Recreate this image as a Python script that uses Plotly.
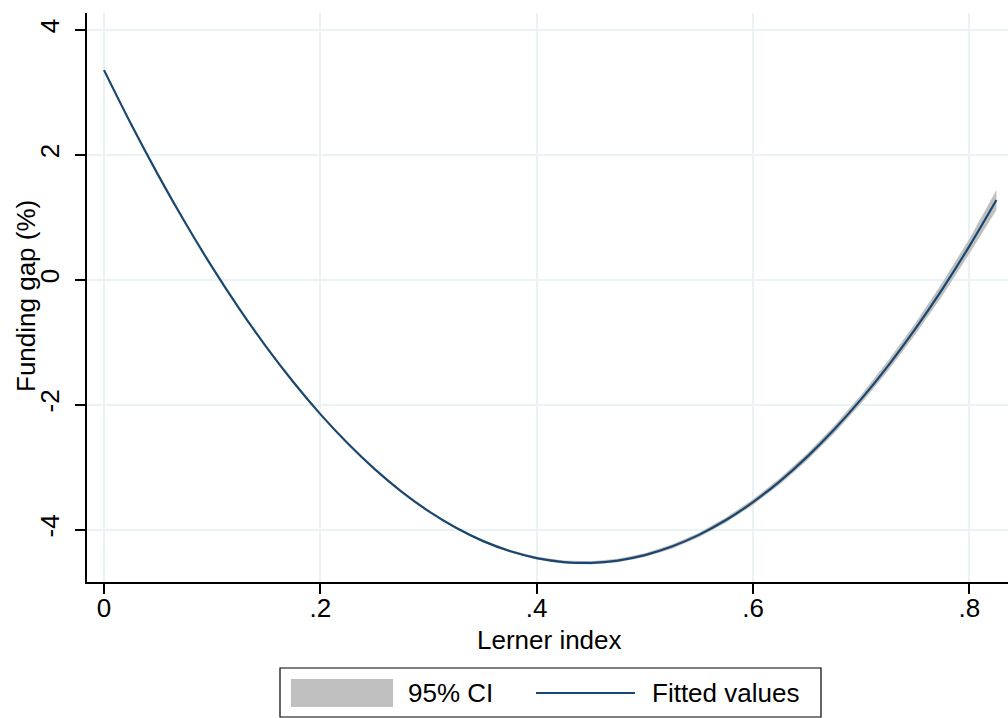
import plotly.graph_objects as go

# Lerner index grid (x) and fitted funding gap (%)
lerner = [0.0, 0.025, 0.05, 0.075, 0.1, 0.125, 0.15, 0.175, 0.2, 0.225, 0.25, 0.275,
          0.3, 0.325, 0.35, 0.375, 0.4, 0.425, 0.45, 0.475, 0.5, 0.525, 0.55, 0.575,
          0.6, 0.625, 0.65, 0.675, 0.7, 0.725, 0.75, 0.775, 0.8, 0.825]
fitted = [3.355, 2.492, 1.679, 0.916, 0.203, -0.460, -1.073, -1.636, -2.149, -2.612,
          -3.025, -3.388, -3.701, -3.964, -4.177, -4.340, -4.453, -4.516, -4.529, -4.492,
          -4.405, -4.268, -4.081, -3.844, -3.557, -3.220, -2.833, -2.396, -1.909, -1.372,
          -0.785, -0.148, 0.539, 1.276]
ci_lower = [3.335, 2.476, 1.666, 0.905, 0.193, -0.470, -1.083, -1.646, -2.159, -2.622,
            -3.036, -3.400, -3.715, -3.980, -4.195, -4.360, -4.475, -4.540, -4.555, -4.520,
            -4.435, -4.301, -4.117, -3.884, -3.602, -3.270, -2.889, -2.459, -1.979, -1.452,
            -0.875, -0.253, 0.419, 1.116]
ci_upper = [3.375, 2.508, 1.692, 0.927, 0.213, -0.450, -1.063, -1.626, -2.139, -2.602,
            -3.014, -3.376, -3.687, -3.948, -4.159, -4.320, -4.431, -4.492, -4.503, -4.464,
            -4.375, -4.235, -4.045, -3.804, -3.512, -3.170, -2.777, -2.333, -1.839, -1.292,
            -0.695, -0.043, 0.659, 1.436]

x_ticks = [0, 0.2, 0.4, 0.6, 0.8]
x_tick_labels = ["0", ".2", ".4", ".6", ".8"]
y_ticks = [-4, -2, 0, 2, 4]
y_tick_labels = ["-4", "-2", "0", "2", "4"]
x_title = "Lerner index"
y_title = "Funding gap (%)"
legend_labels = ["95% CI", "Fitted values"]

FONT = "Liberation Sans, Arial, sans-serif"
NAVY = "#1a476f"
GRAY = "#c0c0c0"
GRID = "#eaf2f3"

fig = go.Figure()
fig.add_trace(go.Scatter(x=lerner, y=ci_lower, mode="lines", line=dict(width=0, color=GRAY),
                         showlegend=False, hoverinfo="skip"))
fig.add_trace(go.Scatter(x=lerner, y=ci_upper, mode="lines", line=dict(width=0, color=GRAY),
                         fill="tonexty", fillcolor=GRAY, name=legend_labels[0], showlegend=False))
fig.add_trace(go.Scatter(x=lerner, y=fitted, mode="lines", line=dict(width=2.2, color=NAVY),
                         name=legend_labels[1], showlegend=False, line_shape="spline"))

fig.update_layout(
    width=1008, height=718,
    margin=dict(l=87, r=0, t=13, b=136, autoexpand=False),
    paper_bgcolor="white", plot_bgcolor="white",
    font=dict(family=FONT, size=26, color="black"),
    xaxis=dict(range=[-0.0157, 0.8357], tickvals=x_ticks, ticktext=x_tick_labels,
               showgrid=True, gridcolor=GRID, gridwidth=1.5, zeroline=False,
               showline=True, linecolor="black", linewidth=1.5,
               ticks="outside", ticklen=10, tickwidth=1.5, tickcolor="black",
               tickfont=dict(size=26), ticklabelstandoff=-8, automargin=False),
    yaxis=dict(range=[-4.835, 4.269], tickvals=y_ticks, ticktext=y_tick_labels,
               showgrid=True, gridcolor=GRID, gridwidth=1.5, zeroline=False,
               showline=True, linecolor="black", linewidth=1.5,
               ticks="outside", ticklen=10, tickwidth=1.5, tickcolor="black",
               tickangle=-90, tickfont=dict(size=26), ticklabelstandoff=6, automargin=False),
)

# pixel -> paper coordinate helpers (plot area spans x 87..1008, y 13..582)
W = 921.0
H = 569.0
def px(x):
    return (x - 87) / W
def py(y):
    return (582 - y) / H

# Axis titles
fig.add_annotation(xref="paper", yref="paper", x=px(549), y=py(640), text=x_title, showarrow=False,
                   xanchor="center", yanchor="middle", font=dict(size=26))
fig.add_annotation(xref="paper", yref="paper", x=px(26), y=py(296), text=y_title, showarrow=False,
                   textangle=-90, xanchor="center", yanchor="middle", font=dict(size=26))

# Legend drawn as a boxed key below the plot (Stata style)
fig.add_shape(type="rect", xref="paper", yref="paper", x0=px(280), x1=px(821), y0=py(668), y1=py(717),
              line=dict(color="black", width=1.2), fillcolor="white")
fig.add_shape(type="rect", xref="paper", yref="paper", x0=px(291), x1=px(393), y0=py(679), y1=py(707),
              line=dict(width=0), fillcolor=GRAY)
fig.add_shape(type="line", xref="paper", yref="paper", x0=px(536), x1=px(635), y0=py(693), y1=py(693),
              line=dict(color=NAVY, width=2))
fig.add_annotation(xref="paper", yref="paper", x=px(406), y=py(693), text=legend_labels[0], showarrow=False,
                   xanchor="left", yanchor="middle", font=dict(size=26))
fig.add_annotation(xref="paper", yref="paper", x=px(650), y=py(693), text=legend_labels[1], showarrow=False,
                   xanchor="left", yanchor="middle", font=dict(size=26))

fig.write_html("out.html", config={"displayModeBar": False},
               post_script="document.body.style.margin='0px';document.body.style.overflow='hidden';")
